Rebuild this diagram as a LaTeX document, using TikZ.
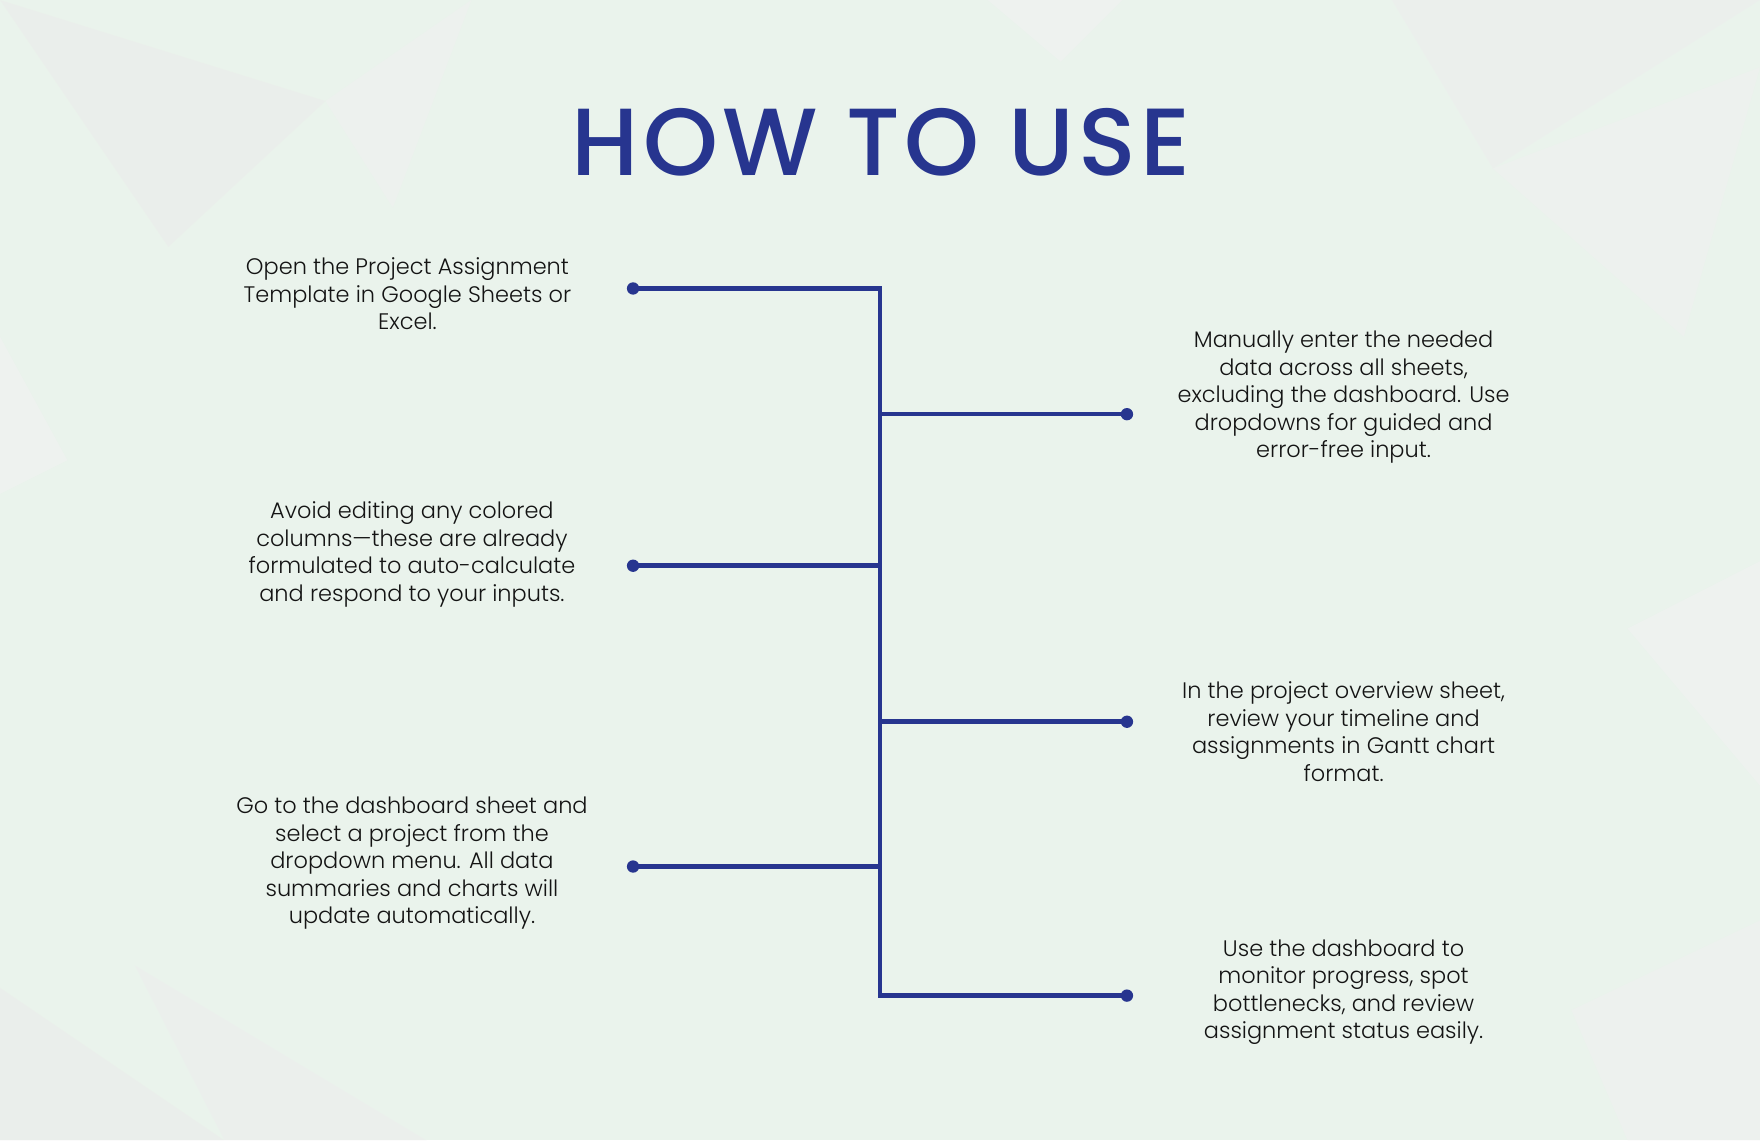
\documentclass[tikz,border=0pt]{standalone}
\usepackage{fontspec}
\setmainfont{Poppins}
\newfontfamily\titlefont{Poppins Medium}[LetterSpace=4.5]
\newfontfamily\bodyfont{Poppins Light}
\definecolor{navy}{HTML}{27358F}
\definecolor{bg}{HTML}{EAF3EC}
\definecolor{txt}{HTML}{141414}
\begin{document}
\begin{tikzpicture}[x=1pt,y=-1pt,
  conn/.style={navy,line width=4pt},
  dotc/.style={circle,fill=navy,inner sep=0pt,minimum size=11pt},
  junc/.style={inner sep=0pt,minimum size=0pt},
  desc/.style={align=center,text=txt,font=\bodyfont\fontsize{20}{24.5}\selectfont}]
\useasboundingbox (0,0) rectangle (1568,1016);
\fill[bg] (0,0) rectangle (1568,1016);
\fill[black!8,opacity=0.5] (0,0) -- (290,90) -- (150,220) -- cycle;
\fill[black!6,opacity=0.5] (290,90) -- (420,0) -- (350,185) -- cycle;
\fill[black!7,opacity=0.5] (1240,0) -- (1568,0) -- (1330,150) -- cycle;
\fill[black!6,opacity=0.5] (1330,150) -- (1568,60) -- (1500,300) -- cycle;
\fill[black!8,opacity=0.5] (0,880) -- (200,1016) -- (0,1016) -- cycle;
\fill[black!7,opacity=0.5] (120,860) -- (380,1016) -- (200,1016) -- cycle;
\fill[black!6,opacity=0.5] (1400,900) -- (1568,820) -- (1568,1016) -- (1450,1016) -- cycle;
\fill[black!5,opacity=0.5] (880,0) -- (1000,0) -- (945,55) -- cycle;
\fill[black!5,opacity=0.5] (0,300) -- (60,410) -- (0,440) -- cycle;
\fill[black!5,opacity=0.5] (1450,560) -- (1568,500) -- (1568,700) -- cycle;
\node[text=navy,font=\titlefont\fontsize{85}{90}\selectfont] (title) at (785,127) {HOW TO USE};
\node[junc] (j1) at (784,257) {};
\node[junc] (j2) at (784,369) {};
\node[junc] (j3) at (784,504) {};
\node[junc] (j4) at (784,643) {};
\node[junc] (j5) at (784,772) {};
\node[junc] (j6) at (784,887) {};
\node[dotc] (d1) at (564,257) {};
\node[dotc] (d2) at (1004,369) {};
\node[dotc] (d3) at (564,504) {};
\node[dotc] (d4) at (1004,643) {};
\node[dotc] (d5) at (564,772) {};
\node[dotc] (d6) at (1004,887) {};
\draw[conn] (d1.center) -- (j1.center) -- (j6.center) -- (d6.center);
\draw[conn] (j2.center) -- (d2.center);
\draw[conn] (j3.center) -- (d3.center);
\draw[conn] (j4.center) -- (d4.center);
\draw[conn] (j5.center) -- (d5.center);
\node[desc] (t1) at (363,262) {Open the Project Assignment\\Template in Google Sheets or\\Excel.};
\node[desc] (t2) at (1197,354) {Manually enter the needed\\data across all sheets,\\excluding the dashboard. Use\\dropdowns for guided and\\error-free input.};
\node[desc] (t3) at (367,494) {Avoid editing any colored\\columns—these are already\\formulated to auto-calculate\\and respond to your inputs.};
\node[desc] (t4) at (1197,652) {In the project overview sheet,\\review your timeline and\\assignments in Gantt chart\\format.};
\node[desc] (t5) at (367,769) {Go to the dashboard sheet and\\select a project from the\\dropdown menu. All data\\summaries and charts will\\update automatically.};
\node[desc] (t6) at (1197,884) {Use the dashboard to\\monitor progress, spot\\bottlenecks, and review\\assignment status easily.};
\end{tikzpicture}
\end{document}
